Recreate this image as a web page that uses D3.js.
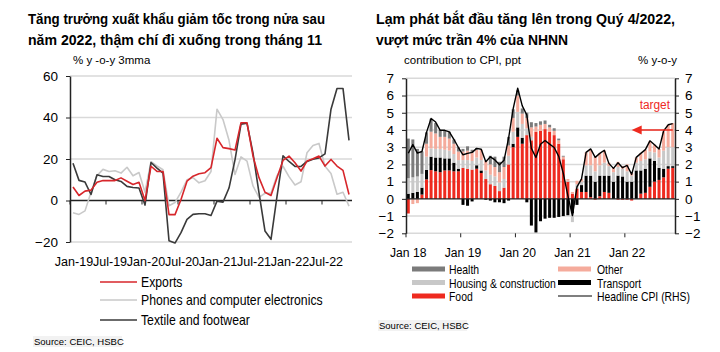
<!DOCTYPE html>
<html>
<head>
<meta charset="utf-8">
<script src="https://cdn.jsdelivr.net/npm/d3@7"></script>
<style>
body { margin: 0; background: #fff; }
svg text { font-family: "Liberation Sans", Arial, sans-serif; fill: #000; }
.title { font-weight: bold; font-size: 15px; }
</style>
</head>
<body>
<svg id="chart" width="720" height="352"></svg>
<script>
// ---- left chart data: % y-o-y 3mma, Jan-19 .. Nov-22
var leftTickLabels = ["Jan-19","Jul-19","Jan-20","Jul-20","Jan-21","Jul-21","Jan-22","Jul-22"];
var leftYTicks = [-20, 0, 20, 40, 60];
var exportsSeries = [6.5,2.4,4.5,5,8.8,9.6,9.6,9.6,10.9,9.3,7.7,8.8,
    0,16.5,14,14,-6.8,-6.8,0.5,9.3,11.7,12.9,13.4,15.8,
    30,25.5,25,24.3,37.5,37.5,21.4,11,4,2.4,11,19.3,
    21.4,18.2,14.2,19,20.1,21.4,16.6,19.8,16.6,14.5,2.9];
var phonesSeries = [-5.9,-6.7,-5,4,12,15,14,14.3,13.2,16,11.9,13.5,
    4,18.7,16.7,14.8,-2.5,-1,4,10,11,8.5,9.5,14,
    44,39,29,12.5,21,19,7,1.5,3.5,3.5,12,16.5,
    11.5,7.5,9,23,26.5,27.5,16.5,13,3,4,-2.7];
var textileSeries = [18,9.7,8.9,2.9,12.4,11.6,11.6,10,9.2,6.8,6.3,6,
    -2.2,18.3,15.6,13.2,-19.4,-20.5,-15.5,-9.1,-6.7,-6.4,-6.4,-7.2,
    -0.3,-0.8,6,19.6,36.8,37.2,22.8,3.7,-14.7,-18.7,2,21.5,
    18.8,16.4,16.4,18.8,19.9,20.5,22.5,44,54,54,29];
var leftNames = ["Exports","Phones and computer electronics","Textile and footwear"];
var leftColors = ["#d7262b","#c9c9c9","#3a3a3a"];

// ---- right chart data: contribution to CPI (ppt), Jan-18 .. Nov-22
var rightTickLabels = ["Jan 18","Jan 19","Jan 20","Jan 21","Jan 22"];
var rightYTicks = [-2,-1,0,1,2,3,4,5,6,7];
var food = [-0.85,0,0,0.25,1.13,1.67,1.6,1.55,1.65,1.65,1.6,1.6,
    1.8,1.75,1.7,1.75,1.5,1.15,0.85,0.75,0.45,0.65,2.0,3.0,
    3.6,3.2,3.7,3.4,3.9,3.95,4.05,3.9,3.7,3.2,2.3,1.0,
    0.3,0.6,0.4,0.4,0.1,-0.05,0.15,0.4,0.35,0,-0.05,-0.05,
    -0.05,-0.1,0,0.3,0.35,0.7,1.0,1.1,1.25,1.75,1.8];
var transport = [0.3,0.35,0.4,0.4,0.55,0.78,0.8,0.85,0.7,0.7,0.5,0.15,
    -0.35,-0.4,-0.15,0.2,0.15,-0.05,-0.1,-0.2,-0.2,-0.25,-0.1,0.2,
    0.55,0.35,-0.2,-1.55,-1.95,-1.3,-1.15,-1.1,-1.1,-1.05,-1.0,-0.95,
    -0.85,-0.35,0.4,0.95,1.25,1.0,1.2,0.95,1.0,1.0,1.35,1.3,
    1.0,1.0,1.65,1.35,1.4,1.65,1.2,0.7,0.5,0.15,0.1];
var housing = [0.9,0.9,0.9,0.8,0.77,0.48,0.5,0.5,0.5,0.45,0.5,0.5,
    0.45,0.5,0.5,0.45,0.6,0.5,0.55,0.55,0.5,0.5,0.5,0.7,
    0.9,0.8,0.4,0.2,0,0,0,0,0,0,0,0.05,
    -0.5,0.25,0.2,0.6,0.6,0.6,0.6,0.75,0.55,0.55,0.5,0.45,
    0.6,0.35,0.45,0.55,0.55,0.4,0.5,0.6,1.05,1.1,1.1];
var other = [0,-0.3,-0.25,0,0.75,0.97,0.9,0.7,0.75,0.7,0.6,0.5,
    0.5,0.55,0.5,0.45,0.6,0.55,0.6,0.55,0.6,0.7,0.6,0.8,
    0.95,0.6,0.6,0.55,0.3,0.35,0.3,0.25,0.25,0.2,0.15,0.1,
    0.1,0.2,0.15,0.75,0.9,0.85,0.7,0.7,0.2,0.25,0.3,0.15,
    0.4,0.15,0.3,0.45,0.55,0.6,0.45,0.5,1.1,1.3,1.4];
var health = [2.3,2.2,1.6,1.3,0.66,0.75,0.6,0.4,0.35,0.4,0.25,0.25,
    0.15,0.25,0.15,0.1,0,0,0.5,0.6,0.6,0.6,0.5,0.5,
    0.3,0.3,0.3,0.3,0.2,0.2,0.2,0.15,0.15,0.1,0.05,0,
    0,0,0,0,0,0,0,0,0,0,0,0,
    0,0,0,0,0,0,0,0,0,0,0];
var headlineCPI = [2.65,3.15,2.66,2.75,3.86,4.67,4.46,3.98,3.98,3.89,3.46,2.98,
    2.56,2.64,2.70,2.93,2.88,2.16,2.44,2.26,1.98,2.24,3.52,5.23,
    6.43,5.40,4.87,2.93,2.40,3.17,3.39,3.18,2.98,2.47,1.48,0.19,
    -0.97,0.70,1.16,2.70,2.90,2.41,2.64,2.82,2.06,1.77,2.10,1.81,
    1.94,1.42,2.41,2.64,2.86,3.37,3.14,2.89,3.94,4.30,4.37];
var targetLevel = 4;
var stackKeys = ["food","transport","housing","other","health"];
var stackColors = {food:"#ee2a1f", transport:"#000000", housing:"#c8c8c8", other:"#f5ab9c", health:"#7b7b7b"};

var svg = d3.select("#chart");

// narrow (condensed) text: squeeze horizontally around its anchor
function narrow(sel, x, y, k) {
    return sel.attr("transform", "translate(" + x + "," + y + ") scale(" + k + ",1)");
}

// ---------- titles (width matched to the original)
[["Tăng trưởng xuất khẩu giảm tốc trong nửa sau", 28, 24, 297],
 ["năm 2022, thậm chí đi xuống trong tháng 11", 28, 45, 294],
 ["Lạm phát bắt đầu tăng lên trong Quý 4/2022,", 376, 24, 299],
 ["vượt mức trần 4% của NHNN", 376, 45, 192]].forEach(function(t){
    svg.append("text").attr("class","title").attr("x",t[1]).attr("y",t[2])
        .attr("textLength",t[3]).attr("lengthAdjust","spacingAndGlyphs").text(t[0]);
});

// ================= LEFT CHART =================
var monthsL = d3.timeMonth.range(new Date(2019,0,1), new Date(2022,10,2));
var xL = d3.scaleBand().domain(monthsL).range([70, 352]);
var yL = d3.scaleLinear().domain([-20, 60]).range([242, 76]);
var left = svg.append("g");

left.append("text").attr("x",73).attr("y",64).style("font-size","11.5px").text("% y -o-y 3mma");

left.selectAll(".gridL").data(leftYTicks.filter(function(d){ return d !== 0; }))
    .enter().append("line")
    .attr("x1",70).attr("x2",352)
    .attr("y1",function(d){ return yL(d); }).attr("y2",function(d){ return yL(d); })
    .attr("stroke","#d9d9d9").attr("stroke-width",1.5);

var yAxisL = left.append("g").attr("transform","translate(70,0)")
    .call(d3.axisLeft(yL).tickValues(leftYTicks).tickSize(4).tickSizeOuter(0).tickPadding(8));
yAxisL.select(".domain").attr("stroke","#222").attr("stroke-width",1.5);
yAxisL.selectAll("line").attr("stroke","#222");
yAxisL.selectAll("text").style("font-size","13.5px").attr("font-family",null);

// zero axis + 6-monthly ticks
left.append("line").attr("x1",70).attr("x2",352).attr("y1",yL(0)).attr("y2",yL(0))
    .attr("stroke","#222").attr("stroke-width",1.5);
var tickIdxL = leftTickLabels.map(function(d,i){ return i * 6; });
left.selectAll(".tickL").data(tickIdxL).enter().append("line")
    .attr("x1",function(i){ return xL(monthsL[i]); }).attr("x2",function(i){ return xL(monthsL[i]); })
    .attr("y1",yL(0)).attr("y2",yL(0) + 4).attr("stroke","#222").attr("stroke-width",1);
left.selectAll(".labL").data(leftTickLabels).enter().append("text")
    .each(function(d,i){ narrow(d3.select(this), xL(monthsL[i*6]) + xL.bandwidth()/2 + 1, 266, 0.93); })
    .attr("text-anchor","middle").style("font-size","13.5px")
    .text(function(d){ return d; });

var lineL = d3.line()
    .x(function(d,i){ return xL(monthsL[i]) + xL.bandwidth()/2; })
    .y(function(d){ return yL(d); });
[[phonesSeries,1],[textileSeries,2],[exportsSeries,0]].forEach(function(s){
    left.append("path").datum(s[0]).attr("d",lineL).attr("fill","none")
        .attr("stroke",leftColors[s[1]]).attr("stroke-width",1.6).attr("stroke-linejoin","round");
});

// legend
var legL = left.selectAll(".legL").data(leftNames).enter().append("g")
    .attr("transform",function(d,i){ return "translate(100," + [282,300,320][i] + ")"; });
legL.append("line").attr("x1",0).attr("x2",37).attr("stroke",function(d,i){ return leftColors[i]; }).attr("stroke-width",1.6);
legL.append("text").each(function(){ narrow(d3.select(this), 41, 5, 0.875); })
    .style("font-size","14px").text(function(d){ return d; });

left.append("rect").attr("x",33).attr("y",336).attr("width",89).attr("height",11).attr("fill","#f2f2f2");
left.append("text").attr("x",34).attr("y",345).style("font-size","9.5px").text("Source: CEIC, HSBC");

// ================= RIGHT CHART =================
var monthsR = d3.timeMonth.range(new Date(2018,0,1), new Date(2022,10,2));
var xR = d3.scaleBand().domain(monthsR).range([406, 675]).paddingInner(0.34).paddingOuter(0.17);
var yR = d3.scaleLinear().domain([-2, 7]).range([233.3, 78.3]);
var right = svg.append("g");
var stepR = xR.step();
function edgeR(i){ return xR(monthsR[i]) + xR.bandwidth()/2 - stepR/2; }
function midR(i){ return xR(monthsR[i]) + xR.bandwidth()/2; }

right.append("text").attr("x",404).attr("y",64).style("font-size","11.5px").text("contribution to CPI, ppt");
right.append("text").attr("x",677).attr("y",64).attr("text-anchor","end").style("font-size","11.5px").text("% y-o-y");

right.selectAll(".gridR").data(rightYTicks.filter(function(d){ return d !== 0; }))
    .enter().append("line")
    .attr("x1",406).attr("x2",675)
    .attr("y1",function(d){ return yR(d); }).attr("y2",function(d){ return yR(d); })
    .attr("stroke","#d9d9d9").attr("stroke-width",1.5);

var rows = monthsR.map(function(m,i){
    return {month:m, food:food[i], transport:transport[i], housing:housing[i], other:other[i], health:health[i]};
});
var stacked = d3.stack().keys(stackKeys).offset(d3.stackOffsetDiverging)(rows);
right.selectAll(".layer").data(stacked).enter().append("g")
    .attr("fill",function(d){ return stackColors[d.key]; })
    .selectAll("rect").data(function(d){ return d; }).enter().append("rect")
    .attr("x",function(d){ return xR(d.data.month); })
    .attr("width",xR.bandwidth())
    .attr("y",function(d){ return yR(Math.max(d[0],d[1])); })
    .attr("height",function(d){ return Math.abs(yR(d[0]) - yR(d[1])); });

// axes
var yAxisR1 = right.append("g").attr("transform","translate(406,0)")
    .call(d3.axisLeft(yR).tickValues(rightYTicks).tickSize(4).tickSizeOuter(0).tickPadding(8));
var yAxisR2 = right.append("g").attr("transform","translate(675,0)")
    .call(d3.axisRight(yR).tickValues(rightYTicks).tickSize(4).tickSizeOuter(0).tickPadding(6));
[yAxisR1, yAxisR2].forEach(function(a){
    a.select(".domain").attr("stroke","#222").attr("stroke-width",1.5);
    a.selectAll("line").attr("stroke","#222");
    a.selectAll("text").style("font-size","13.5px").attr("font-family",null);
});
right.append("line").attr("x1",406).attr("x2",675).attr("y1",yR(0)).attr("y2",yR(0))
    .attr("stroke","#222").attr("stroke-width",1.2);
var tickIdxR = rightTickLabels.map(function(d,i){ return i * 12; });
right.selectAll(".tickR").data(tickIdxR).enter().append("line")
    .attr("x1",function(i){ return edgeR(i); }).attr("x2",function(i){ return edgeR(i); })
    .attr("y1",yR(-2)).attr("y2",yR(-2) + 4).attr("stroke","#222");
right.selectAll(".labR").data(rightTickLabels).enter().append("text")
    .each(function(d,i){ narrow(d3.select(this), midR(i*12), 257, 0.9); })
    .attr("text-anchor","middle").style("font-size","13.5px")
    .text(function(d){ return d; });

// headline CPI
right.append("path").datum(headlineCPI)
    .attr("d",d3.line().x(function(d,i){ return midR(i); }).y(function(d){ return yR(d); }))
    .attr("fill","none").attr("stroke","#000").attr("stroke-width",1.4).attr("stroke-linejoin","round");

// target arrow
var tipX = midR(49), endX = midR(58), ty = yR(targetLevel);
right.append("line").attr("x1",tipX + 8).attr("x2",endX).attr("y1",ty).attr("y2",ty)
    .attr("stroke","#ee2a1f").attr("stroke-width",1.6);
right.append("path").attr("d","M" + tipX + "," + ty + "L" + (tipX + 10) + "," + (ty - 4.5) + "L" + (tipX + 10) + "," + (ty + 4.5) + "Z")
    .attr("fill","#ee2a1f");
right.append("text").each(function(){ narrow(d3.select(this), 670, 109, 0.88); })
    .attr("text-anchor","end")
    .style("font-size","13.5px").style("fill","#ee2a1f").text("target");

// legend
var legItems = [
    {name:"Health", key:"health", col:0, row:0},
    {name:"Housing & construction", key:"housing", col:0, row:1},
    {name:"Food", key:"food", col:0, row:2},
    {name:"Other", key:"other", col:1, row:0},
    {name:"Transport", key:"transport", col:1, row:1},
    {name:"Headline CPI (RHS)", key:"cpi", col:1, row:2}
];
var legR = right.selectAll(".legR").data(legItems).enter().append("g")
    .attr("transform",function(d){ return "translate(" + (d.col ? 558 : 412) + "," + [269,282.5,296][d.row] + ")"; });
legR.each(function(d){
    var g = d3.select(this);
    if (d.key === "cpi") {
        g.append("line").attr("x1",0).attr("x2",34).attr("stroke","#000").attr("stroke-width",1.2);
    } else {
        g.append("rect").attr("x",0).attr("y",-2.5).attr("width",33).attr("height",5).attr("fill",stackColors[d.key]);
    }
    narrow(g.append("text"), d.col ? 39 : 37, 5, 0.8).style("font-size","13px").text(d.name);
});

right.append("rect").attr("x",378).attr("y",320).attr("width",89).attr("height",11).attr("fill","#f2f2f2");
right.append("text").attr("x",379).attr("y",329).style("font-size","9.5px").text("Source: CEIC, HSBC");
</script>
</body>
</html>
